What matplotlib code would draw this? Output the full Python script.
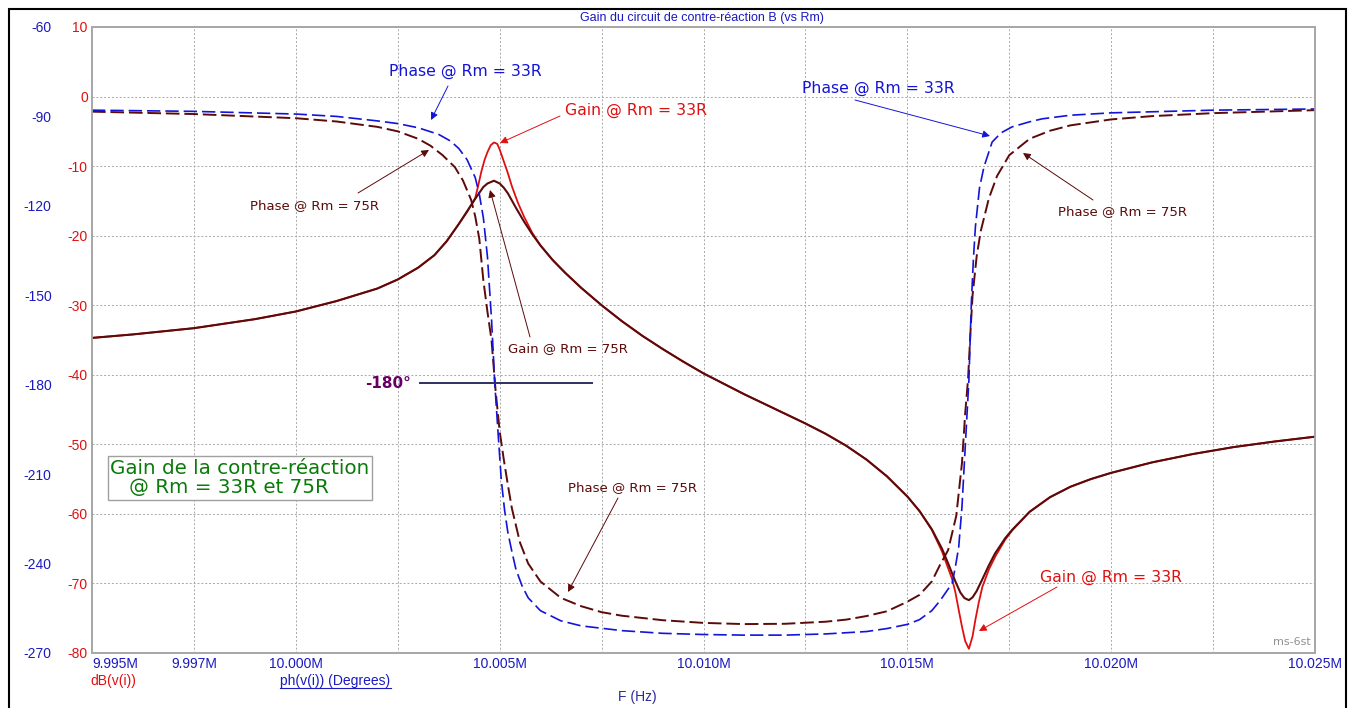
import matplotlib
matplotlib.use("Agg")
import matplotlib.pyplot as plt
from matplotlib.patches import Rectangle
from matplotlib.lines import Line2D

# frequencies in MHz, gain in dB, phase in degrees
f_gain75 = [9.9950, 9.9960, 9.9975, 9.9990, 10.0000, 10.0010, 10.0020, 10.0025, 10.0030,
            10.0034, 10.0037, 10.0040, 10.0042, 10.0044, 10.0046, 10.0047, 10.00486, 10.0050,
            10.0051, 10.0052, 10.0054, 10.0056, 10.0058, 10.0060, 10.0063, 10.0066, 10.0070,
            10.0075, 10.0080, 10.0085, 10.0090, 10.0095, 10.0100, 10.0110, 10.0120, 10.0125,
            10.0130, 10.0135, 10.0140, 10.0145, 10.0150, 10.0153, 10.0156, 10.01585,
            10.0160, 10.01617, 10.0163, 10.0164, 10.01651, 10.0166, 10.0167, 10.01684, 10.0170,
            10.01715, 10.0174, 10.01757, 10.0180, 10.0185, 10.0190, 10.0195, 10.0200, 10.0210,
            10.0220, 10.0230, 10.0240, 10.0250]
gain75 = [-34.7, -34.2, -33.3, -32.0, -30.9, -29.4, -27.6, -26.3, -24.6,
          -22.8, -20.8, -18.3, -16.5, -14.7, -13.0, -12.5, -12.1, -12.5,
          -13.1, -13.9, -16.0, -18.0, -19.8, -21.4, -23.5, -25.3, -27.5,
          -30.0, -32.3, -34.4, -36.3, -38.1, -39.8, -42.8, -45.6, -47.0,
          -48.5, -50.2, -52.2, -54.6, -57.5, -59.6, -62.2, -65.0,
          -67.1, -69.6, -71.3, -72.1, -72.4, -72.0, -71.1, -69.4, -67.4,
          -65.7, -63.5, -62.3, -59.7, -57.6, -56.1, -55.0, -54.1, -52.6,
          -51.4, -50.4, -49.6, -48.9]

f_gain33 = [9.9950, 9.9960, 9.9975, 9.9990, 10.0000, 10.0010, 10.0020, 10.0025, 10.0030,
            10.0034, 10.0037, 10.0040, 10.0042, 10.0044, 10.00447, 10.00455, 10.00463, 10.0047,
            10.00478, 10.00486, 10.00494, 10.0050, 10.0051, 10.0052, 10.0053, 10.00545, 10.0056,
            10.0058, 10.0060, 10.0063, 10.0066, 10.0070, 10.0075, 10.0080, 10.0085, 10.0090,
            10.0095, 10.0100, 10.0110, 10.0120, 10.0125, 10.0130, 10.0135, 10.0140,
            10.0145, 10.0150, 10.0153, 10.0156, 10.01585, 10.0160, 10.0161, 10.01618, 10.01626,
            10.01634, 10.01642, 10.01651, 10.0166, 10.01667, 10.01675, 10.01684, 10.0170, 10.01716,
            10.0174, 10.01757, 10.0180, 10.0185, 10.0190, 10.0195, 10.0200, 10.0210, 10.0220,
            10.0230, 10.0240, 10.0250]
gain33 = [-34.7, -34.2, -33.3, -32.0, -30.9, -29.4, -27.6, -26.3, -24.6,
          -22.8, -20.8, -18.3, -16.6, -14.6, -12.9, -10.8, -9.1, -8.0,
          -7.0, -6.6, -6.8, -7.6, -9.3, -11.0, -12.9, -15.3, -17.3,
          -19.6, -21.4, -23.5, -25.3, -27.5, -30.0, -32.3, -34.4, -36.3,
          -38.1, -39.8, -42.8, -45.6, -47.0, -48.5, -50.2, -52.2,
          -54.6, -57.5, -59.6, -62.3, -65.4, -67.8, -69.4, -71.3, -73.8,
          -76.2, -78.3, -79.4, -77.6, -75.2, -72.8, -70.5, -68.0, -66.1,
          -63.7, -62.4, -59.7, -57.6, -56.1, -55.0, -54.1, -52.6, -51.4,
          -50.4, -49.6, -48.9]

f_ph33 = [9.9950, 9.9975, 10.0000, 10.0010, 10.0020, 10.0025, 10.0030, 10.0035, 10.0038,
          10.0040, 10.0042, 10.0044, 10.0045, 10.0046, 10.0047, 10.0048, 10.00488, 10.00496,
          10.00504, 10.00512, 10.0052, 10.0053, 10.0054, 10.00555, 10.0057, 10.0060, 10.0065,
          10.0070, 10.0080, 10.0090, 10.0100, 10.0110, 10.0120, 10.0130, 10.0140, 10.0145,
          10.0150, 10.0153, 10.0156, 10.0158, 10.0161, 10.01618, 10.01626, 10.01634, 10.01642,
          10.01651, 10.01657, 10.01662, 10.01667, 10.01677, 10.01688, 10.01708, 10.0173, 10.01757,
          10.0180, 10.01831, 10.0190, 10.0200, 10.0225, 10.0250]
ph33 = [-87.9, -88.3, -89.2, -90.0, -91.5, -92.4, -93.8, -96.0, -98.3,
        -100.8, -104.5, -110.5, -116.0, -124.0, -137.0, -158.0, -179.5, -196.0,
        -212.0, -222.0, -229.5, -236.0, -242.0, -247.5, -251.5, -255.8, -259.2,
        -260.9, -262.5, -263.4, -263.8, -264.0, -264.0, -263.6, -262.8, -261.8,
        -260.4, -258.8, -255.8, -252.5, -246.6, -241.0, -234.5, -221.0, -201.0,
        -178.5, -152.6, -138.0, -127.0, -114.0, -106.9, -98.6, -95.5, -93.5,
        -91.8, -90.8, -89.6, -88.8, -87.9, -87.5]

f_ph75 = [9.9950, 9.9975, 10.0000, 10.0010, 10.0020, 10.0025, 10.0030, 10.0033, 10.0036,
          10.0039, 10.0041, 10.0043, 10.0044, 10.0045, 10.0046, 10.0047, 10.0048, 10.0049,
          10.0050, 10.0051, 10.0052, 10.0053, 10.0055, 10.0057, 10.0060, 10.0065, 10.0070,
          10.0075, 10.0080, 10.0090, 10.0100, 10.0110, 10.0120, 10.0130, 10.0135, 10.0140,
          10.0145, 10.0150, 10.0153, 10.0156, 10.0158, 10.0160, 10.0162, 10.01634, 10.01642,
          10.01649, 10.01655, 10.0166, 10.0167, 10.0168, 10.0170, 10.0172, 10.0175, 10.0180,
          10.0185, 10.0190, 10.0200, 10.0210, 10.0225, 10.0250]
ph75 = [-88.4, -89.2, -90.6, -91.7, -93.5, -95.0, -97.5, -99.8, -103.0,
        -107.0, -111.5, -118.0, -123.5, -131.0, -145.0, -155.5, -165.0, -182.0,
        -195.6, -205.0, -213.5, -221.5, -233.0, -240.0, -246.0, -251.5, -254.3,
        -256.3, -257.5, -259.0, -259.9, -260.3, -260.2, -259.5, -258.8, -257.6,
        -256.0, -252.8, -250.5, -246.0, -240.5, -235.5, -224.0, -206.3, -189.5,
        -178.0, -162.0, -150.0, -137.0, -128.5, -117.5, -110.0, -103.0, -97.5,
        -94.8, -93.0, -91.0, -89.9, -88.9, -87.9]

x_ticks = [9.995, 9.9975, 10.000, 10.0025, 10.005, 10.0075, 10.010, 10.0125,
           10.015, 10.0175, 10.020, 10.0225, 10.025]
x_labels = ["9.995M", "9.997M", "10.000M", "", "10.005M", "", "10.010M", "",
            "10.015M", "", "10.020M", "", "10.025M"]
db_ticks = [10, 0, -10, -20, -30, -40, -50, -60, -70, -80]
ph_ticks = [-60, -90, -120, -150, -180, -210, -240, -270]

RED = "#e01010"
BROWN = "#5c0a0a"
BLUE = "#1414d8"
TBLUE = "#1a1ac0"
GRID = "#a8a8a8"
W, H = 1357, 708


def fp(x, y):
    # screenshot pixel -> figure pixels
    return (x, H - y)


fig = plt.figure(figsize=(W / 100, H / 100), dpi=100)
fig.patch.set_facecolor("white")
ax = fig.add_axes([92 / W, 1 - 653 / H, (1315 - 92) / W, (653 - 27) / H])
ax2 = ax.twinx()

ax.plot(f_gain33, gain33, color=RED, lw=1.3, zorder=3)
ax.plot(f_gain75, gain75, color=BROWN, lw=1.5, zorder=4)
ax2.plot(f_ph75, ph75, color=BROWN, lw=1.4, dashes=(7, 2.5))
ax2.plot(f_ph33, ph33, color=BLUE, lw=1.2, dashes=(8, 3))

ax.set_xlim(9.995, 10.025)
ax.set_ylim(-80, 10)
ax2.set_ylim(-270, -60)

ax.set_xticks(x_ticks)
ax.set_xticklabels(x_labels, fontfamily="Liberation Sans", fontsize=10, color=TBLUE)
ax.get_xticklabels()[0].set_ha("left")
ax.set_yticks(db_ticks)
ax.set_yticklabels([str(v) for v in db_ticks], fontfamily="Liberation Sans", fontsize=10)
ax.tick_params(axis="x", length=0, pad=3)
ax.tick_params(axis="y", length=0, pad=3, labelcolor=RED)

ax2.yaxis.set_ticks_position("left")
ax2.set_yticks(ph_ticks)
ax2.set_yticklabels([str(v) for v in ph_ticks], fontfamily="Liberation Sans", fontsize=10)
ax2.tick_params(axis="y", length=0, pad=29, labelcolor=TBLUE)

ax.grid(True, color=GRID, ls=(0, (2, 2)), lw=0.7)
for a in (ax, ax2):
    for s in a.spines.values():
        s.set_color(GRID)
        s.set_linewidth(1.3)

# annotations
def label(x, y, txt, color, size, **kw):
    fig.text(x / W, 1 - y / H, txt, color=color, fontsize=size, ha="center", va="center",
             fontfamily="DejaVu Sans", **kw)


def arrow(tail, head, color):
    ax.annotate("", xy=fp(*head), xytext=fp(*tail), xycoords="figure pixels",
                textcoords="figure pixels",
                arrowprops=dict(arrowstyle="-|>", color=color, lw=0.7, mutation_scale=11,
                                shrinkA=0, shrinkB=0))


label(465, 71, "Phase @ Rm = 33R", BLUE, 11.3)
arrow((448, 86), (431, 120), BLUE)
label(636, 110, "Gain @ Rm = 33R", RED, 11.3)
arrow((560, 116), (500, 143), RED)
label(315, 206, "Phase @ Rm = 75R", BROWN, 9.5)
arrow((358, 193), (429, 150), BROWN)
label(568, 349, "Gain @ Rm = 75R", BROWN, 9.5)
arrow((530, 337), (490, 190), BROWN)
label(632, 488, "Phase @ Rm = 75R", BROWN, 9.5)
arrow((618, 498), (568, 592), BROWN)
label(878, 88, "Phase @ Rm = 33R", BLUE, 11.3)
arrow((855, 100), (990, 136), BLUE)
label(1122, 212, "Phase @ Rm = 75R", BROWN, 9.5)
arrow((1093, 200), (1023, 153), BROWN)
label(1111, 577, "Gain @ Rm = 33R", RED, 11.3)
arrow((1057, 587), (979, 631), RED)

label(388, 383, "-180°", "#660066", 11, fontweight="bold")
fig.add_artist(Line2D([420 / W, 592 / W], [1 - 383 / H, 1 - 383 / H], color="#303060", lw=1.4))

fig.text(110 / W, 1 - 478 / H, "Gain de la contre-réaction\n   @ Rm = 33R et 75R",
         color="#0a7a0a", fontsize=14.3, ha="left", va="center", fontfamily="DejaVu Sans",
         linespacing=1.05,
         bbox=dict(boxstyle="square,pad=0.12", fc="white", ec="#a0a0a0", lw=1))

fig.text(1292 / W, 1 - 642 / H, "ms-6st", color="#909090", fontsize=8, ha="center",
         va="center", fontfamily="DejaVu Sans")

# axis captions, title
fig.text(702 / W, 1 - 18 / H, "Gain du circuit de contre-réaction B (vs Rm)", color=TBLUE,
         fontsize=9, ha="center", va="center", fontfamily="Liberation Sans")
fig.text(90 / W, 1 - 681 / H, "dB(v(i))", color=RED, fontsize=10, ha="left", va="center",
         fontfamily="Liberation Sans")
fig.text(280 / W, 1 - 681 / H, "ph(v(i)) (Degrees)", color=TBLUE, fontsize=10, ha="left",
         va="center", fontfamily="Liberation Sans")
fig.add_artist(Line2D([280 / W, 391 / W], [1 - 688 / H, 1 - 688 / H], color=TBLUE, lw=0.8))
fig.text(637 / W, 1 - 697 / H, "F (Hz)", color="#2a2aa0", fontsize=10, ha="center",
         va="center", fontfamily="Liberation Sans")

# outer frame
fig.add_artist(Rectangle((9 / W, -0.05), (1346 - 9) / W, 1.05 - 9 / H, transform=fig.transFigure,
                         fill=False, ec="black", lw=1.5))

fig.savefig("out.png", dpi=100)
